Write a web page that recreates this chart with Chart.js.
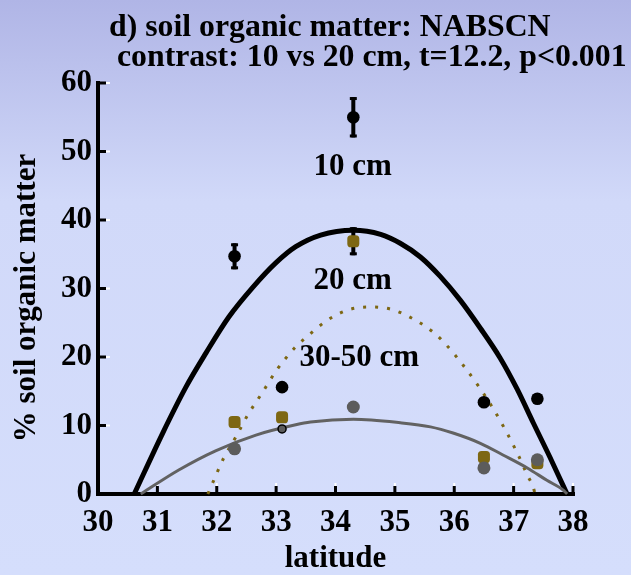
<!DOCTYPE html>
<html>
<head>
<meta charset="utf-8">
<script src="https://cdn.jsdelivr.net/npm/chart.js@4/dist/chart.umd.min.js"></script>
<style>
  html, body { margin: 0; padding: 0; background: #d5defc; }
  #wrap { width: 631px; height: 575px; }
</style>
</head>
<body>
<div id="wrap"><canvas id="somChart" width="631" height="575"></canvas></div>
<script>
// sites (latitude) and % soil organic matter at each depth
const latitudes = [32.3, 33.1, 34.3, 36.5, 37.4];
const som10cm = [34.7, 15.6, 55.0, 13.4, 13.9];
const som20cm = [10.5, 11.2, 36.9, 5.4, 4.5];
const som30to50cm = [6.6, 9.5, 12.7, 3.8, 5.0];
// half-length of the error bars that show in the figure
const err10cm = [1.9, 0, 2.95, 0, 0];
const err20cm = [0, 0, 2.05, 0, 0];

// fitted curves
const fit10Lat = [30.61, 31.09, 31.48, 31.82, 32.20, 32.61, 32.99, 33.33, 33.75, 34.30, 34.76, 35.09, 35.43, 35.76, 36.10, 36.44, 36.77, 37.06, 37.33, 37.61, 37.83, 37.90];
const fit10Som = [0, 8.9, 15.6, 20.6, 25.8, 30.2, 33.7, 36.1, 37.8, 38.5, 37.9, 36.6, 34.6, 31.8, 28.3, 24.2, 19.9, 15.3, 10.4, 5.4, 1.3, 0];
const fit20Lat = [31.85, 31.95, 32.12, 32.32, 32.52, 32.76, 33.01, 33.31, 33.51, 33.85, 34.22, 34.57, 34.92, 35.28, 35.65, 35.82, 36.15, 36.42, 36.66, 36.87, 37.06, 37.24, 37.33, 37.36];
const fit20Som = [0, 2.0, 5.3, 8.3, 11.5, 14.7, 18.1, 21.3, 22.9, 25.3, 26.9, 27.3, 27.0, 25.7, 23.6, 22.2, 18.8, 15.6, 12.4, 9.2, 6.0, 2.6, 1.0, 0];
const fit3050Lat = [30.72, 31.36, 31.98, 32.66, 33.33, 33.58, 34.30, 35.09, 35.60, 35.98, 36.44, 36.82, 37.23, 37.56, 37.83, 37.90];
const fit3050Som = [0, 3.5, 6.3, 8.6, 10.1, 10.5, 10.9, 10.4, 9.8, 8.9, 7.4, 5.7, 3.8, 2.0, 0.6, 0];

const xTicks = [30, 31, 32, 33, 34, 35, 36, 37, 38];
const yTicks = [0, 10, 20, 30, 40, 50, 60];

const curveNames = ['10 cm', '20 cm', '30-50 cm'];
const curveNameLat = [34.29, 34.29, 34.40];
const curveNameSom = [47.7, 31.1, 19.9];

const titleLines = ['d) soil organic matter: NABSCN', ' contrast: 10 vs 20 cm, t=12.2, p<0.001'];
const xTitle = 'latitude';
const yTitle = '% soil organic matter';

const FONT = 'bold 31px "Liberation Serif", "Times New Roman", serif';
const TITLE_FONT = 'bold 31.8px "Liberation Serif", "Times New Roman", serif';
const OLIVE = '#7d6713';
const GREY = '#5c5c5c';

function pts(xs, ys) {
  return xs.map((v, i) => ({ x: v, y: ys[i] }));
}

// page background
const backdrop = {
  id: 'backdrop',
  beforeDraw(chart) {
    const { ctx, width, height } = chart;
    const g = ctx.createLinearGradient(0, 0, 0, height);
    g.addColorStop(0, '#b0b5e6');
    g.addColorStop(0.35, '#d1d9f9');
    g.addColorStop(1, '#d5defc');
    ctx.save();
    ctx.fillStyle = g;
    ctx.fillRect(0, 0, width, height);
    ctx.restore();
  }
};

function seg(ctx, x1, y1, x2, y2) {
  ctx.beginPath();
  ctx.moveTo(x1, y1);
  ctx.lineTo(x2, y2);
  ctx.stroke();
}

// axes with inward ticks, and the error bars
const axesAndBars = {
  id: 'axesAndBars',
  beforeDatasetsDraw(chart) {
    const { ctx, chartArea: a } = chart;
    const x = chart.scales.x, y = chart.scales.y;
    ctx.save();
    ctx.lineCap = 'butt';
    yTicks.forEach(v => {
      if (v === 0) return;
      const py = y.getPixelForValue(v);
      ctx.strokeStyle = '#000'; ctx.lineWidth = 3;
      seg(ctx, a.left, py, a.left + 8, py);
      ctx.strokeStyle = '#fff'; ctx.lineWidth = 2;
      seg(ctx, a.left + 8, py, a.left + 12, py);
    });
    xTicks.forEach(v => {
      if (v === 30) return;
      const px = x.getPixelForValue(v);
      ctx.strokeStyle = '#000'; ctx.lineWidth = 3;
      seg(ctx, px, a.bottom, px, a.bottom - 8);
      ctx.strokeStyle = '#fff'; ctx.lineWidth = 2;
      seg(ctx, px, a.bottom - 8, px, a.bottom - 11);
    });
    ctx.strokeStyle = '#000';
    ctx.lineWidth = 4;
    ctx.lineCap = 'square';
    seg(ctx, a.left, a.top, a.left, a.bottom);
    seg(ctx, a.left, a.bottom, a.right, a.bottom);

    ctx.lineCap = 'butt';
    [[som10cm, err10cm], [som20cm, err20cm]].forEach(([vals, errs]) => {
      vals.forEach((v, i) => {
        if (!errs[i]) return;
        const px = x.getPixelForValue(latitudes[i]);
        const t = y.getPixelForValue(v + errs[i]);
        const b = y.getPixelForValue(v - errs[i]);
        ctx.lineWidth = 4;
        seg(ctx, px, t, px, b);
        ctx.lineWidth = 3;
        seg(ctx, px - 3.5, t + 1.5, px + 3.5, t + 1.5);
        seg(ctx, px - 3.5, b - 1.5, px + 3.5, b - 1.5);
      });
    });
    ctx.restore();
  },
  afterDraw(chart) {
    const { ctx } = chart;
    const x = chart.scales.x, y = chart.scales.y;
    ctx.save();
    ctx.fillStyle = '#000';
    ctx.font = TITLE_FONT;
    ctx.textBaseline = 'alphabetic';
    ctx.textAlign = 'left';
    ctx.fillText(titleLines[0], 109, 36);
    ctx.fillText(titleLines[1], 109, 66);

    ctx.font = FONT;
    ctx.textAlign = 'center';
    ctx.fillText(xTitle, (chart.chartArea.left + chart.chartArea.right) / 2, 567);

    ctx.save();
    ctx.translate(35, 298);
    ctx.rotate(-Math.PI / 2);
    ctx.fillText(yTitle, 0, 0);
    ctx.restore();

    ctx.textBaseline = 'middle';
    curveNames.forEach((s, i) => {
      ctx.fillText(s, x.getPixelForValue(curveNameLat[i]), y.getPixelForValue(curveNameSom[i]));
    });
    ctx.restore();
  }
};

const ctx = document.getElementById('somChart').getContext('2d');
const chart = new Chart(ctx, {
  type: 'scatter',
  data: {
    datasets: [
      {
        label: '30-50 cm',
        data: pts(latitudes, som30to50cm),
        backgroundColor: GREY,
        borderColor: '#000',
        borderWidth: c => (c.dataIndex === 1 ? 1.5 : 0),
        pointRadius: c => (c.dataIndex === 1 ? 4 : 6.5),
        order: 1
      },
      {
        label: '20 cm',
        data: pts(latitudes, som20cm),
        backgroundColor: OLIVE,
        borderWidth: 0,
        pointStyle: 'rectRounded',
        pointRadius: 7,
        order: 2
      },
      {
        label: '10 cm',
        data: pts(latitudes, som10cm),
        backgroundColor: '#000',
        borderWidth: 0,
        pointRadius: 6.3,
        order: 3
      },
      {
        label: '30-50 cm fit',
        data: pts(fit3050Lat, fit3050Som),
        showLine: true,
        borderColor: '#626262',
        borderWidth: 3,
        pointRadius: 0,
        cubicInterpolationMode: 'monotone',
        clip: false,
        order: 4
      },
      {
        label: '20 cm fit',
        data: pts(fit20Lat, fit20Som),
        showLine: true,
        borderColor: OLIVE,
        borderWidth: 3,
        borderDash: [3, 9],
        pointRadius: 0,
        cubicInterpolationMode: 'monotone',
        clip: false,
        order: 5
      },
      {
        label: '10 cm fit',
        data: pts(fit10Lat, fit10Som),
        showLine: true,
        borderColor: '#000',
        borderWidth: 5,
        pointRadius: 0,
        cubicInterpolationMode: 'monotone',
        clip: false,
        order: 6
      }
    ]
  },
  options: {
    responsive: false,
    animation: false,
    events: [],
    layout: { padding: { top: 83, right: 58, bottom: 0, left: 0 } },
    plugins: {
      legend: { display: false },
      tooltip: { enabled: false },
      title: { display: false }
    },
    scales: {
      x: {
        type: 'linear',
        min: 30,
        max: 38,
        afterBuildTicks: s => { s.ticks = xTicks.map(v => ({ value: v })); },
        afterFit: s => { s.height = 81; },
        grid: { display: false, drawTicks: false },
        border: { display: false },
        ticks: { color: '#000', font: { family: '"Liberation Serif", serif', size: 31, weight: 'bold' }, padding: 10, maxRotation: 0, autoSkip: false }
      },
      y: {
        type: 'linear',
        min: 0,
        max: 60,
        afterBuildTicks: s => { s.ticks = yTicks.map(v => ({ value: v })); },
        afterFit: s => { s.width = 98; },
        grid: { display: false, drawTicks: false },
        border: { display: false },
        ticks: { color: '#000', font: { family: '"Liberation Serif", serif', size: 31, weight: 'bold' }, padding: 6 }
      }
    }
  },
  plugins: [backdrop, axesAndBars]
});
</script>
</body>
</html>
